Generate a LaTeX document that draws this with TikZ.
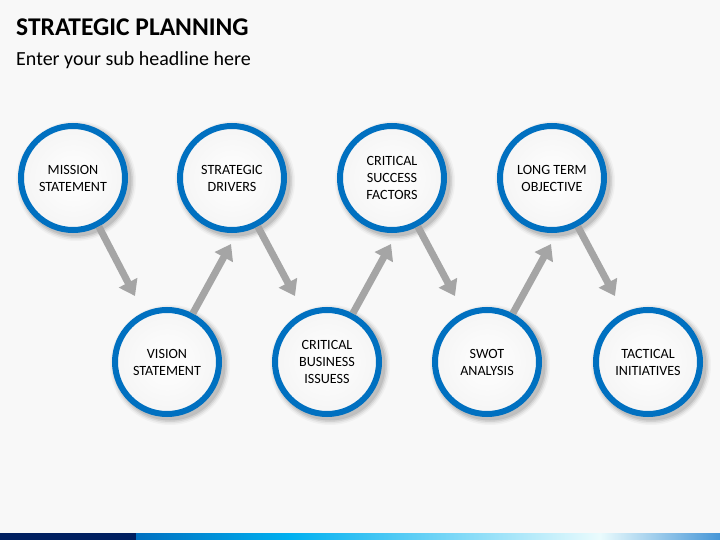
\documentclass[tikz,border=0pt]{standalone}
\usepackage{fontspec}
\setmainfont{Carlito}
\usetikzlibrary{arrows.meta}
\definecolor{bg}{RGB}{248,248,248}
\definecolor{ringblue}{RGB}{0,112,192}
\definecolor{navy}{RGB}{0,32,96}
\definecolor{cyanb}{RGB}{0,176,240}
\definecolor{palec}{RGB}{234,251,253}
\definecolor{endb}{RGB}{70,150,215}
\definecolor{arrgray}{RGB}{165,165,165}
\tikzset{
  stepcircle/.style={circle, minimum size=104pt, inner sep=0pt, draw=ringblue, line width=6pt,
    inner color=white, outer color=black!4, align=center, font=\fontsize{14.1}{17}\selectfont, text=black},
  arr/.style={draw=arrgray, line width=7pt, -{Triangle[width=20pt,length=15pt]}}
}
\begin{document}
\begin{tikzpicture}[x=1pt,y=-1pt]
\fill[bg] (0,0) rectangle (720,540);
\useasboundingbox (0,0) rectangle (720,540);
% title
\node[anchor=base west, inner sep=0pt, font=\fontsize{25.5}{30}\bfseries\selectfont] (title) at (16,36) {STRATEGIC PLANNING};
\node[anchor=base west, inner sep=0pt, font=\fontsize{20}{24}\selectfont] (sub) at (16,66) {Enter your sub headline here};
% bottom bar
\fill[navy] (0,533) rectangle (136,540);
\shade[left color=ringblue, right color=cyanb] (136,533) rectangle (290,540);
\shade[left color=cyanb, right color=palec] (290,533) rectangle (600,540);
\shade[left color=palec, right color=endb] (600,533) rectangle (720,540);
% arrow end points
\coordinate (t1) at (135,296);
\coordinate (t3) at (295,296);
\coordinate (t5) at (455,296);
\coordinate (t7) at (615,296);
\coordinate (u2) at (231,244);
\coordinate (u4) at (391,244);
\coordinate (u6) at (551,244);
% shadows
\foreach \x/\y in {73/178,232/178,392/178,552/178,167/362,327/362,487/362,648/362}{
  \foreach \r/\o in {60/0.03,58.5/0.05,57/0.07,55.5/0.09}{
    \fill[black, opacity=\o] (\x+3,\y+3) circle (\r);
  }
}
% circles
\node[stepcircle] (mission) at (73,178) {MISSION\\STATEMENT};
\node[stepcircle] (drivers) at (232,178) {STRATEGIC\\DRIVERS};
\node[stepcircle] (csf) at (392,178) {CRITICAL\\SUCCESS\\FACTORS};
\node[stepcircle] (lto) at (552,178) {LONG TERM\\OBJECTIVE};
\node[stepcircle] (vision) at (167,362) {VISION\\STATEMENT};
\node[stepcircle] (cbi) at (327,362) {CRITICAL\\BUSINESS\\ISSUESS};
\node[stepcircle] (swot) at (487,362) {SWOT\\ANALYSIS};
\node[stepcircle] (tact) at (648,362) {TACTICAL\\INITIATIVES};
% connectors
\draw[arr] (mission.-62) -- (t1);
\draw[arr] (vision.62) -- (u2);
\draw[arr] (drivers.-62) -- (t3);
\draw[arr] (cbi.62) -- (u4);
\draw[arr] (csf.-62) -- (t5);
\draw[arr] (swot.62) -- (u6);
\draw[arr] (lto.-62) -- (t7);
\end{tikzpicture}
\end{document}
